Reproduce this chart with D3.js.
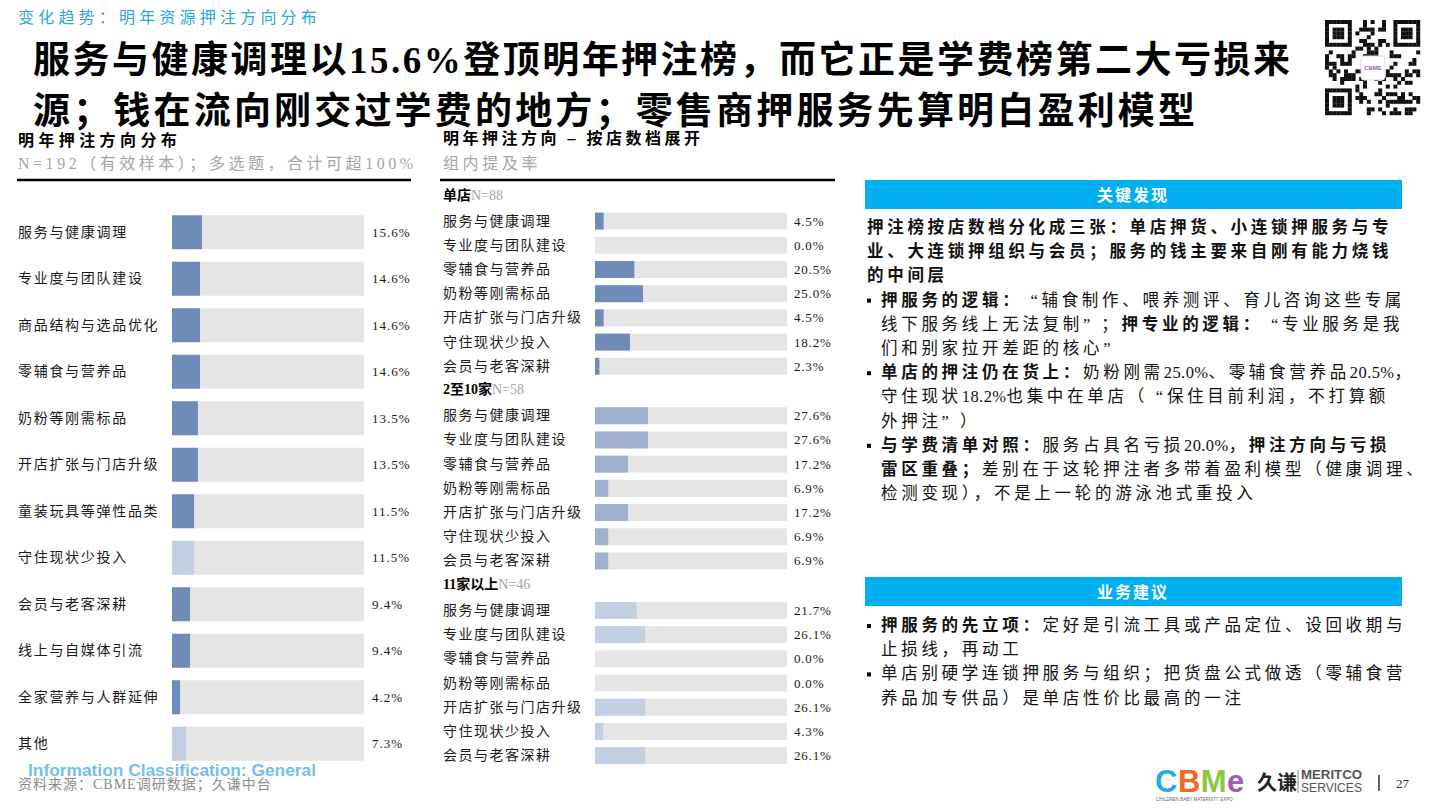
<!DOCTYPE html>
<html>
<head>
<meta charset="utf-8">
<script src="https://cdn.jsdelivr.net/npm/d3@7"></script>
<style>
  body { margin: 0; background: #fff; }
  svg { display: block; font-family: "Liberation Serif", "Noto Sans CJK SC", serif; }
</style>
</head>
<body>
<div id="wrapper"></div>
<script>
// 1. Data

const leftCategories = [
  '服务与健康调理', '专业度与团队建设', '商品结构与选品优化', '零辅食与营养品',
  '奶粉等刚需标品', '开店扩张与门店升级', '童装玩具等弹性品类', '守住现状少投入',
  '会员与老客深耕', '线上与自媒体引流', '全家营养与人群延伸', '其他'
]
const leftValues = [15.6, 14.6, 14.6, 14.6, 13.5, 13.5, 11.5, 11.5, 9.4, 9.4, 4.2, 7.3]
const leftMuted = ['守住现状少投入', '其他']

const tierNames = ['单店', '2至10家', '11家以上']
const tierSamples = [88, 58, 46]
const tierCategories = [
  '服务与健康调理', '专业度与团队建设', '零辅食与营养品', '奶粉等刚需标品',
  '开店扩张与门店升级', '守住现状少投入', '会员与老客深耕'
]
const tierSingle = [4.5, 0.0, 20.5, 25.0, 4.5, 18.2, 2.3]
const tierSmall = [27.6, 27.6, 17.2, 6.9, 17.2, 6.9, 6.9]
const tierLarge = [21.7, 26.1, 0.0, 0.0, 26.1, 4.3, 26.1]
const tierValues = [tierSingle, tierSmall, tierLarge]

// text lines of the right panel: [text, bold] segments
const findingLines = [
  { bullet: false, indent: false, segs: [['押注榜按店数档分化成三张：单店押货、小连锁押服务与专', true]] },
  { bullet: false, indent: false, segs: [['业、大连锁押组织与会员；服务的钱主要来自刚有能力烧钱', true]] },
  { bullet: false, indent: false, segs: [['的中间层', true]] },
  { bullet: true, indent: true, segs: [['押服务的逻辑：', true], ['“辅食制作、喂养测评、育儿咨询这些专属', false]] },
  { bullet: false, indent: true, segs: [['线下服务线上无法复制”；', false], ['押专业的逻辑：', true], ['“专业服务是我', false]] },
  { bullet: false, indent: true, segs: [['们和别家拉开差距的核心”', false]] },
  { bullet: true, indent: true, segs: [['单店的押注仍在货上：', true], ['奶粉刚需25.0%、零辅食营养品20.5%，', false]] },
  { bullet: false, indent: true, segs: [['守住现状18.2%也集中在单店（“保住目前利润，不打算额', false]] },
  { bullet: false, indent: true, segs: [['外押注”）', false]] },
  { bullet: true, indent: true, segs: [['与学费清单对照：', true], ['服务占具名亏损20.0%，', false], ['押注方向与亏损', true]] },
  { bullet: false, indent: true, segs: [['雷区重叠；', true], ['差别在于这轮押注者多带着盈利模型（健康调理、', false]] },
  { bullet: false, indent: true, segs: [['检测变现），不是上一轮的游泳池式重投入', false]] }
]
const adviceLines = [
  { bullet: true, indent: true, segs: [['押服务的先立项：', true], ['定好是引流工具或产品定位、设回收期与', false]] },
  { bullet: false, indent: true, segs: [['止损线，再动工', false]] },
  { bullet: true, indent: true, segs: [['单店别硬学连锁押服务与组织；把货盘公式做透（零辅食营', false]] },
  { bullet: false, indent: true, segs: [['养品加专供品）是单店性价比最高的一注', false]] }
]

function drawChart() {

  // 2. Dimensions

  const dimensions = {
    width: 1432,
    height: 810,
    trackWidth: 192
  }
  const colors = {
    dark: '#6f8cb9',
    mid: '#9fb1cf',
    light: '#c3cfe2',
    track: '#e5e5e5',
    gray: '#a5a5a5',
    blue: '#00b0f0',
    topic: '#2aa7e0'
  }
  const tierColors = [colors.dark, colors.mid, colors.light]

  // 3. Canvas

  const svg = d3.select('#wrapper')
    .append('svg')
      .attr('width', dimensions.width)
      .attr('height', dimensions.height)

  // 4. Header

  svg.append('text')
      .attr('x', 18).attr('y', 17)
      .attr('dominant-baseline', 'central')
      .attr('font-size', 16)
      .attr('letter-spacing', 4.2)
      .attr('fill', colors.topic)
      .text('变化趋势：明年资源押注方向分布')

  const titleLines = [
    { text: '服务与健康调理以15.6%登顶明年押注榜，而它正是学费榜第二大亏损来', y: 60, w: 1257 },
    { text: '源；钱在流向刚交过学费的地方；零售商押服务先算明白盈利模型', y: 111, w: 1162 }
  ]
  svg.selectAll('.title-line')
    .data(titleLines)
    .join('text')
      .attr('class', 'title-line')
      .attr('x', 33)
      .attr('y', d => d.y)
      .attr('dominant-baseline', 'central')
      .attr('font-size', 37)
      .attr('font-weight', 700)
      .attr('textLength', d => d.w)
      .attr('lengthAdjust', 'spacing')
      .text(d => d.text)

  // QR code (decorative)
  const qr = svg.append('g').attr('transform', 'translate(1325, 20)')
  const qrN = 25
  const cell = 95 / qrN
  const isFinder = (i, j) => {
    const inBox = (a, b) => i >= a && i < a + 7 && j >= b && j < b + 7
    return inBox(0, 0) || inBox(0, qrN - 7) || inBox(qrN - 7, 0)
  }
  const qrCells = []
  for (let i = 0; i < qrN; i++) {
    for (let j = 0; j < qrN; j++) {
      let on
      if (isFinder(i, j)) {
        const a = i >= qrN - 7 ? i - (qrN - 7) : i
        const b = j >= qrN - 7 ? j - (qrN - 7) : j
        on = a === 0 || a === 6 || b === 0 || b === 6 || (a >= 2 && a <= 4 && b >= 2 && b <= 4)
      } else if ((i === 7 && j < 8) || (j === 7 && i < 8) || (i === 7 && j >= qrN - 8) || (j === qrN - 8 && i < 8) || (i === qrN - 8 && j < 8) || (j === 7 && i >= qrN - 8)) {
        on = false
      } else {
        on = ((i * 7 + j * 13) ^ (i * j + 3)) % 3 === 0
      }
      if (on) qrCells.push([i, j])
    }
  }
  qr.selectAll('rect.qr')
    .data(qrCells)
    .join('rect')
      .attr('class', 'qr')
      .attr('x', d => d[1] * cell)
      .attr('y', d => d[0] * cell)
      .attr('width', cell + 0.2)
      .attr('height', cell + 0.2)
      .attr('fill', '#111')
  qr.append('rect')
      .attr('x', 36).attr('y', 36).attr('width', 24).attr('height', 24)
      .attr('rx', 3).attr('fill', '#fff').attr('stroke', '#ddd')
  qr.append('text')
      .attr('x', 48).attr('y', 48)
      .attr('text-anchor', 'middle').attr('dominant-baseline', 'central')
      .attr('font-size', 6).attr('font-weight', 700)
      .attr('font-family', 'Liberation Sans, sans-serif')
      .attr('fill', '#9e5fb5')
      .text('CBME')

  // 5. Left chart

  const left = svg.append('g')

  left.append('text')
      .attr('x', 18).attr('y', 140)
      .attr('dominant-baseline', 'central')
      .attr('font-size', 16).attr('font-weight', 700)
      .attr('letter-spacing', 4.4)
      .text('明年押注方向分布')
  left.append('text')
      .attr('x', 18).attr('y', 163)
      .attr('dominant-baseline', 'central')
      .attr('font-size', 16)
      .attr('fill', colors.gray)
      .attr('textLength', 395).attr('lengthAdjust', 'spacing')
      .text('N=192（有效样本）；多选题，合计可超100%')
  left.append('line')
      .attr('x1', 17).attr('x2', 411).attr('y1', 180).attr('y2', 180)
      .attr('stroke', '#000').attr('stroke-width', 2.5)

  const leftY = d3.scaleBand()
    .domain(leftCategories)
    .range([209, 767])
    .paddingInner(0.27)
    .paddingOuter(0.135)

  const xScale = d3.scaleLinear()
    .domain([0, 100])
    .range([0, dimensions.trackWidth])

  const leftData = leftCategories.map((c, i) => ({ category: c, value: leftValues[i] }))
  const leftRows = left.selectAll('.left-row')
    .data(leftData)
    .join('g')
      .attr('class', 'left-row')
      .attr('transform', d => `translate(0, ${leftY(d.category)})`)

  leftRows.append('rect')
      .attr('x', 172)
      .attr('width', xScale(100))
      .attr('height', leftY.bandwidth())
      .attr('fill', colors.track)
  leftRows.append('rect')
      .attr('x', 172)
      .attr('width', d => xScale(d.value))
      .attr('height', leftY.bandwidth())
      .attr('fill', d => leftMuted.includes(d.category) ? colors.light : colors.dark)
  leftRows.append('text')
      .attr('x', 18)
      .attr('y', leftY.bandwidth() / 2)
      .attr('dominant-baseline', 'central')
      .attr('font-size', 14)
      .attr('letter-spacing', 1.7)
      .attr('fill', '#1a1a1a')
      .text(d => d.category)
  leftRows.append('text')
      .attr('x', 372)
      .attr('y', leftY.bandwidth() / 2)
      .attr('dominant-baseline', 'central')
      .attr('font-size', 13)
      .attr('letter-spacing', 1)
      .attr('fill', '#1a1a1a')
      .text(d => d.value.toFixed(1) + '%')

  // 6. Middle chart

  const mid = svg.append('g')

  mid.append('text')
      .attr('x', 443).attr('y', 138)
      .attr('dominant-baseline', 'central')
      .attr('font-size', 16).attr('font-weight', 700)
      .attr('letter-spacing', 3.5)
      .text('明年押注方向 – 按店数档展开')
  mid.append('text')
      .attr('x', 443).attr('y', 163)
      .attr('dominant-baseline', 'central')
      .attr('font-size', 16)
      .attr('letter-spacing', 3.6)
      .attr('fill', colors.gray)
      .text('组内提及率')
  mid.append('line')
      .attr('x1', 440).attr('x2', 835).attr('y1', 180).attr('y2', 180)
      .attr('stroke', '#000').attr('stroke-width', 2.5)

  const groupY = d3.scaleBand()
    .domain(d3.range(tierNames.length))
    .range([183, 767])

  const rowY = d3.scaleBand()
    .domain(tierCategories)
    .range([26, 26 + 7 * 24.2])
    .paddingInner(0.3)
    .paddingOuter(0.15)

  const groups = mid.selectAll('.tier')
    .data(tierNames.map((name, i) => ({
      name, i, n: tierSamples[i],
      rows: tierCategories.map((c, j) => ({ category: c, value: tierValues[i][j], tier: i }))
    })))
    .join('g')
      .attr('class', 'tier')
      .attr('transform', d => `translate(0, ${groupY(d.i)})`)

  const headers = groups.append('text')
      .attr('x', 443).attr('y', 11.5)
      .attr('dominant-baseline', 'central')
      .attr('font-size', 14)
  headers.append('tspan')
      .attr('font-weight', 700)
      .text(d => d.name)
  headers.append('tspan')
      .attr('fill', colors.gray)
      .text(d => 'N=' + d.n)

  const rows = groups.selectAll('.tier-row')
    .data(d => d.rows)
    .join('g')
      .attr('class', 'tier-row')
      .attr('transform', d => `translate(0, ${rowY(d.category)})`)

  rows.append('rect')
      .attr('x', 595)
      .attr('width', xScale(100))
      .attr('height', rowY.bandwidth())
      .attr('fill', colors.track)
  rows.append('rect')
      .attr('x', 595)
      .attr('width', d => xScale(d.value))
      .attr('height', rowY.bandwidth())
      .attr('fill', d => tierColors[d.tier])
  rows.append('text')
      .attr('x', 443)
      .attr('y', rowY.bandwidth() / 2)
      .attr('dominant-baseline', 'central')
      .attr('font-size', 14)
      .attr('letter-spacing', 1.5)
      .attr('fill', '#1a1a1a')
      .text(d => d.category)
  rows.append('text')
      .attr('x', 794)
      .attr('y', rowY.bandwidth() / 2)
      .attr('dominant-baseline', 'central')
      .attr('font-size', 13)
      .attr('letter-spacing', 0.8)
      .attr('fill', '#1a1a1a')
      .text(d => d.value.toFixed(1) + '%')

  // 7. Right panel

  const right = svg.append('g')

  // split a run into ascii / quote / cjk pieces so spacing can differ
  const splitRuns = str => str.match(/[\x20-\x7e]+|[“”]|[^\x20-\x7e“”]+/g) || []

  function drawPanel(title, top, lines, firstLineY) {
    right.append('rect')
        .attr('x', 865).attr('y', top)
        .attr('width', 537).attr('height', 29)
        .attr('fill', colors.blue)
    right.append('text')
        .attr('x', 1133).attr('y', top + 15)
        .attr('text-anchor', 'middle')
        .attr('dominant-baseline', 'central')
        .attr('font-size', 16).attr('font-weight', 700)
        .attr('letter-spacing', 2)
        .attr('fill', '#fff')
        .text(title)

    lines.forEach((line, i) => {
      const y = firstLineY + i * 24.2
      if (line.bullet) {
        right.append('rect')
            .attr('x', 867).attr('y', y - 1)
            .attr('width', 4).attr('height', 4)
            .attr('fill', '#000')
      }
      const t = right.append('text')
          .attr('x', line.indent ? 881 : 867)
          .attr('y', y)
          .attr('dominant-baseline', 'central')
          .attr('font-size', 16.5)
          .attr('fill', '#111')
      line.segs.forEach(([str, bold]) => {
        splitRuns(str).forEach(run => {
          const ascii = /^[\x20-\x7e]+$/.test(run)
          const span = t.append('tspan')
              .attr('font-weight', bold ? 700 : 400)
              .attr('letter-spacing', ascii ? 0.4 : 3.7)
              .text(run)
          // CJK-style full-width quotes: pad the open side
          if (run === '“') span.attr('dx', 8)
          if (run === '”') span.attr('letter-spacing', 11)
        })
      })
    })
  }

  drawPanel('关键发现', 180, findingLines, 227)
  drawPanel('业务建议', 577, adviceLines, 625)

  // 8. Footer

  svg.append('text')
      .attr('x', 28).attr('y', 770)
      .attr('dominant-baseline', 'central')
      .attr('font-family', '"Liberation Sans", Arial, sans-serif')
      .attr('font-size', 16).attr('font-weight', 700)
      .attr('fill', '#79bde9')
      .attr('textLength', 288).attr('lengthAdjust', 'spacingAndGlyphs')
      .text('Information Classification: General')
  svg.append('text')
      .attr('x', 18).attr('y', 784)
      .attr('dominant-baseline', 'central')
      .attr('font-size', 14)
      .attr('letter-spacing', 1)
      .attr('fill', '#8c8c8c')
      .text('资料来源：CBME调研数据；久谦中台')

  const logo = svg.append('g')
  const cbme = logo.append('text')
      .attr('x', 1155).attr('y', 781)
      .attr('dominant-baseline', 'central')
      .attr('font-family', '"Liberation Sans", Arial, sans-serif')
      .attr('font-size', 31).attr('font-weight', 700)
      .attr('letter-spacing', 0.5)
  const cbmeLetters = [['C', '#29abe2'], ['B', '#f26a21'], ['M', '#8dc63f'], ['e', '#9e5fb5']]
  cbmeLetters.forEach(([ch, c]) => cbme.append('tspan').attr('fill', c).text(ch))
  logo.append('text')
      .attr('x', 1156).attr('y', 799)
      .attr('dominant-baseline', 'central')
      .attr('font-family', '"Liberation Sans", Arial, sans-serif')
      .attr('font-size', 4.5)
      .attr('fill', '#666')
      .text('CHILDREN BABY MATERNITY EXPO')
  logo.append('text')
      .attr('x', 1257).attr('y', 781)
      .attr('dominant-baseline', 'central')
      .attr('font-family', '"Noto Sans CJK SC", sans-serif')
      .attr('font-size', 20).attr('font-weight', 700)
      .attr('fill', '#222')
      .text('久谦')
  logo.append('line')
      .attr('x1', 1298).attr('x2', 1298).attr('y1', 770).attr('y2', 793)
      .attr('stroke', '#888').attr('stroke-width', 1)
  logo.append('text')
      .attr('x', 1301).attr('y', 775)
      .attr('dominant-baseline', 'central')
      .attr('font-family', '"Liberation Sans", Arial, sans-serif')
      .attr('font-size', 12).attr('font-weight', 700)
      .attr('fill', '#555')
      .attr('textLength', 61).attr('lengthAdjust', 'spacingAndGlyphs')
      .text('MERITCO')
  logo.append('text')
      .attr('x', 1301).attr('y', 788)
      .attr('dominant-baseline', 'central')
      .attr('font-family', '"Liberation Sans", Arial, sans-serif')
      .attr('font-size', 12)
      .attr('fill', '#555')
      .attr('textLength', 61).attr('lengthAdjust', 'spacingAndGlyphs')
      .text('SERVICES')
  logo.append('line')
      .attr('x1', 1379).attr('x2', 1379).attr('y1', 775).attr('y2', 791)
      .attr('stroke', '#333').attr('stroke-width', 1.5)
  logo.append('text')
      .attr('x', 1396).attr('y', 783)
      .attr('dominant-baseline', 'central')
      .attr('font-size', 13)
      .attr('fill', '#333')
      .text('27')
}
drawChart()
</script>
</body>
</html>
